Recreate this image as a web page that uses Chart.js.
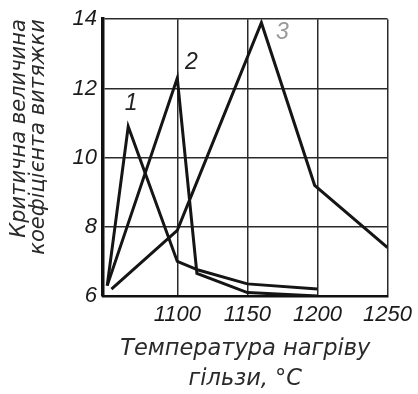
<!DOCTYPE html>
<html><head><meta charset="utf-8">
<script src="https://cdn.jsdelivr.net/npm/chart.js@4/dist/chart.umd.min.js"></script>
<style>html,body{margin:0;padding:0;background:#fff;}canvas{display:block}</style>
</head><body>
<canvas id="c" width="418" height="394"></canvas>
<script>
const xTicks = [1100, 1150, 1200, 1250];
const yTicks = [6, 8, 10, 12, 14];
const seriesNames = ['1', '2', '3'];
const curve1X = [1050, 1065, 1100, 1115, 1150, 1200];
const curve1Y = [6.3, 10.9, 7.0, 6.75, 6.35, 6.2];
const curve2X = [1050, 1100, 1114, 1150, 1200];
const curve2Y = [6.3, 12.3, 6.65, 6.1, 6.0];
const curve3X = [1053, 1100, 1160, 1198, 1250];
const curve3Y = [6.2, 7.9, 13.9, 9.2, 7.4];
const labelX = [1067, 1110, 1175];
const labelY = [11.55, 12.75, 13.6];
const yTitle = ['Критична величина', 'коефіцієнта витяжки'];
const xTitle = ['Температура нагріву', 'гільзи, °C'];

const FONT = "'Liberation Sans', sans-serif";
const TFONT = "'DejaVu Sans', sans-serif";
const toPts = (xs, ys) => xs.map((x, i) => ({x: x, y: ys[i]}));

const seriesLabels = {
  id: 'seriesLabels',
  afterDatasetsDraw(chart) {
    const {ctx, scales: {x, y}} = chart;
    ctx.save();
    ctx.font = 'italic 23px ' + FONT;
    ctx.textAlign = 'center';
    ctx.textBaseline = 'middle';
    seriesNames.forEach((n, i) => {
      ctx.fillStyle = i === 2 ? '#9a9a9a' : '#222';
      ctx.fillText(n, x.getPixelForValue(labelX[i]), y.getPixelForValue(labelY[i]));
    });
    ctx.restore();
  }
};

const lineStyle = {borderColor: '#151515', borderWidth: 3, pointRadius: 0, tension: 0, fill: false, borderJoinStyle: 'miter'};

new Chart(document.getElementById('c'), {
  type: 'line',
  data: {
    datasets: [
      Object.assign({label: seriesNames[0], data: toPts(curve1X, curve1Y)}, lineStyle),
      Object.assign({label: seriesNames[1], data: toPts(curve2X, curve2Y)}, lineStyle),
      Object.assign({label: seriesNames[2], data: toPts(curve3X, curve3Y)}, lineStyle)
    ]
  },
  options: {
    responsive: false,
    devicePixelRatio: 1,
    animation: false,
    layout: {padding: {left: 0, right: 30, top: 17, bottom: 0}},
    plugins: {legend: {display: false}, tooltip: {enabled: false}},
    scales: {
      x: {
        type: 'linear', min: 1047, max: 1250,
        afterBuildTicks: s => { s.ticks = xTicks.map(v => ({value: v})); },
        afterFit: s => { s.height = 98; },
        grid: {color: '#2a2a2a', lineWidth: 1.5, drawTicks: false},
        border: {color: '#111', width: 2.5},
        ticks: {color: '#1a1a1a', padding: 6, maxRotation: 0, font: {family: FONT, size: 22, style: 'italic'}, callback: v => String(v)},
        title: {display: true, text: xTitle, color: '#2a2a2a', padding: {top: 0, bottom: 0}, font: {family: TFONT, size: 22.5, style: 'italic', lineHeight: 1.33}}
      },
      y: {
        type: 'linear', min: 6, max: 14,
        afterBuildTicks: s => { s.ticks = yTicks.map(v => ({value: v})); },
        afterFit: s => { s.width = 103; },
        grid: {color: '#2a2a2a', lineWidth: 1.5, drawTicks: false},
        border: {color: '#111', width: 3.5},
        ticks: {color: '#1a1a1a', padding: 6, font: {family: FONT, size: 22, style: 'italic'}, callback: v => String(v)},
        title: {display: true, text: yTitle, align: 'end', color: '#2a2a2a', padding: {top: 11, bottom: 0}, font: {family: TFONT, size: 21, style: 'italic', lineHeight: 0.86}}
      }
    }
  },
  plugins: [seriesLabels]
});
</script>
</body></html>
